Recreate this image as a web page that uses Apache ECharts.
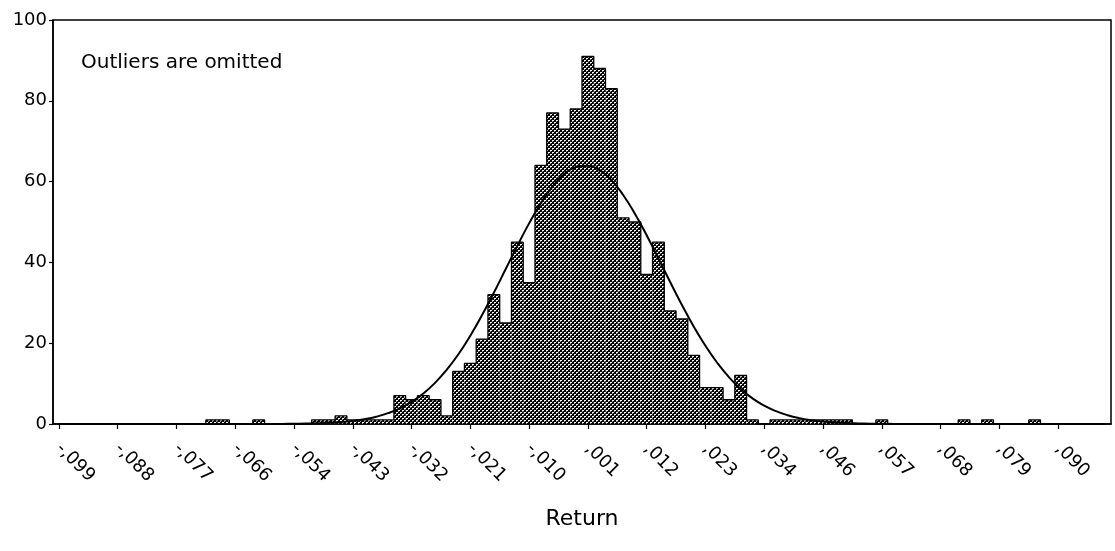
<!DOCTYPE html>
<html>
<head>
<meta charset="utf-8">
<script src="https://cdn.jsdelivr.net/npm/echarts@6/dist/echarts.min.js"></script>
<style>
  html, body { margin: 0; padding: 0; background: #fff; }
  #chart { width: 1115px; height: 551px; }
</style>
</head>
<body>
<div id="chart"></div>
<script>
// Tick labels (every 5th bin centre)
const tickLabels = ["-,099", "-,088", "-,077", "-,066", "-,054", "-,043", "-,032", "-,021", "-,010",
                    ",001", ",012", ",023", ",034", ",046", ",057", ",068", ",079", ",090"];

// Histogram counts, one per bin (90 bins, 5 bins per labelled tick)
const counts = [
  0, 0, 0, 0, 0, 0, 0, 0, 0, 0,
  0, 0, 0, 1, 1, 0, 0, 1, 0, 0,
  0, 0, 1, 1, 2, 1, 1, 1, 1, 7,
  6, 7, 6, 2, 13, 15, 21, 32, 25, 45,
  35, 64, 77, 73, 78, 91, 88, 83, 51, 50,
  37, 45, 28, 26, 17, 9, 9, 6, 12, 1,
  0, 1, 1, 1, 1, 1, 1, 1, 0, 0,
  1, 0, 0, 0, 0, 0, 0, 1, 0, 1,
  0, 0, 0, 1, 0, 0, 0, 0, 0, 0
];

// Fitted normal curve, read at each bin centre
const normalCurve = [
  0, 0, 0, 0, 0, 0, 0, 0, 0, 0,
  0, 0, 0, 0, 0, 0, 0, 0, 0.01, 0.03,
  0.06, 0.11, 0.18, 0.30, 0.49, 0.77, 1.20, 1.81, 2.68, 3.87,
  5.46, 7.54, 10.18, 13.45, 17.34, 21.87, 26.96, 32.50, 38.29, 44.10,
  49.66, 54.66, 58.81, 61.87, 63.61, 63.95, 62.84, 60.36, 56.69, 52.05,
  46.71, 40.98, 35.14, 29.47, 24.15, 19.35, 15.16, 11.60, 8.68, 6.35,
  4.54, 3.18, 2.17, 1.45, 0.95, 0.61, 0.38, 0.23, 0.14, 0.08,
  0.05, 0.03, 0.01, 0, 0, 0, 0, 0, 0, 0,
  0, 0, 0, 0, 0, 0, 0, 0, 0, 0
];

const yTicks = [0, 20, 40, 60, 80, 100];

const bins = counts.map((_, i) => String(i));

// checkered fill pattern (black mesh with white holes on a diagonal grid)
const pat = document.createElement('canvas');
pat.width = 4; pat.height = 4;
const pc = pat.getContext('2d');
pc.fillStyle = '#000';
pc.fillRect(0, 0, 4, 4);
pc.fillStyle = '#fff';
[[0,0],[1,0],[2,2],[3,2]].forEach(p => pc.fillRect(p[0], p[1], 1, 1));
pc.fillStyle = '#9a9a9a';
[[0,1],[2,3]].forEach(p => pc.fillRect(p[0], p[1], 1, 1));

const FONT = 'DejaVu Sans';
const chart = echarts.init(document.getElementById('chart'), null, { renderer: 'canvas' });
chart.setOption({
  animation: false,
  backgroundColor: '#fff',
  grid: { left: 53, right: 4, top: 20, bottom: 127, show: true, borderColor: '#000', borderWidth: 1.5, backgroundColor: 'transparent' },
  graphic: [{
    type: 'text', left: 81, top: 53,
    style: { text: 'Outliers are omitted', font: '20px "' + FONT + '"', fill: '#000' }
  }],
  xAxis: {
    type: 'category',
    data: bins,
    boundaryGap: true,
    name: 'Return',
    nameLocation: 'middle',
    nameGap: 84,
    nameTextStyle: { fontFamily: FONT, fontSize: 22, color: '#000' },
    axisLine: { show: true, lineStyle: { color: '#000', width: 1.5 } },
    axisTick: { show: true, alignWithLabel: true, length: 5, interval: (i) => i % 5 === 0, lineStyle: { color: '#000', width: 1.2 } },
    axisLabel: {
      show: true,
      interval: (i) => i % 5 === 0 && i / 5 < tickLabels.length,
      formatter: (v, i) => tickLabels[Math.floor(i / 5)],
      rotate: -45,
      margin: 22,
      fontFamily: FONT,
      fontSize: 18,
      color: '#000'
    },
    splitLine: { show: false }
  },
  yAxis: {
    type: 'value',
    min: yTicks[0],
    max: yTicks[yTicks.length - 1],
    interval: 20,
    axisLine: { show: true, lineStyle: { color: '#000', width: 1.5 } },
    axisTick: { show: true, length: 4, lineStyle: { color: '#000', width: 1.2 } },
    axisLabel: { fontFamily: FONT, fontSize: 18, color: '#000', margin: 6 },
    splitLine: { show: false }
  },
  series: [
    {
      type: 'bar',
      data: counts,
      barCategoryGap: 0,
      barGap: 0,
      itemStyle: { color: { image: pat, repeat: 'repeat' }, borderWidth: 0 },
      z: 2
    },
    {
      // histogram outline
      type: 'line',
      data: counts,
      step: 'middle',
      symbol: 'none',
      lineStyle: { color: '#000', width: 1.3 },
      z: 3
    },
    {
      type: 'line',
      data: normalCurve,
      smooth: true,
      symbol: 'none',
      lineStyle: { color: '#000', width: 2 },
      z: 4
    }
  ]
});
</script>
</body>
</html>
